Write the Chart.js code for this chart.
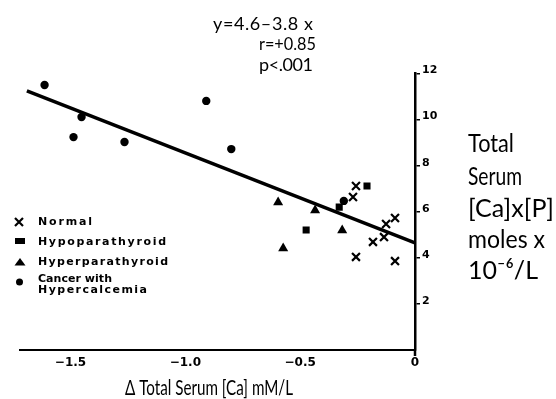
<!DOCTYPE html>
<html><head><meta charset="utf-8">
<script src="https://cdn.jsdelivr.net/npm/chart.js@4.4.0/dist/chart.umd.min.js"></script>
<style>html,body{margin:0;padding:0;background:#fff;}canvas{display:block;}</style>
</head><body>
<canvas id="c" width="556" height="399"></canvas>
<script>
// ---- data ----
const normalX = [-0.257, -0.270, -0.126, -0.087, -0.135, -0.183, -0.257, -0.087];
const normalY = [7.12, 6.64, 5.47, 5.73, 4.90, 4.69, 4.04, 3.86];
const hypoX = [-0.209, -0.474, -0.330];
const hypoY = [7.12, 5.21, 6.20];
const hyperX = [-0.596, -0.435, -0.317, -0.574];
const hyperY = [6.41, 6.06, 5.19, 4.41];
const cancerX = [-1.613, -1.452, -1.487, -1.265, -0.909, -0.800, -0.310];
const cancerY = [11.50, 10.11, 9.24, 9.03, 10.81, 8.72, 6.47];
const fitX = [-1.69, 0];
const fitY = [11.25, 4.65];
const xTicks = [-1.5, -1.0, -0.5, 0];
const yTicks = [2, 4, 6, 8, 10, 12];
const legendLabels = ['Normal', 'Hypoparathyroid', 'Hyperparathyroid', 'Cancer with', 'Hypercalcemia'];
const statLines = ['y=4.6\u20133.8 x', 'r=+0.85', 'p<.001'];
const yTitleLines = ['Total', 'Serum', '[Ca]x[P]', 'moles x', '10\u207B\u2076/L'];
const xTitle = '\u0394 Total Serum [Ca] mM/L';

const pts = (xs, ys) => xs.map((x, i) => ({x: x, y: ys[i]}));

function fitText(ctx, text, x, y, w, font) {
  ctx.save();
  ctx.font = font;
  ctx.letterSpacing = '0px';
  ctx.textBaseline = 'middle';
  ctx.textAlign = 'left';
  const m = ctx.measureText(text).width;
  const n = Math.max(1, text.length - 1);
  const sp = (w - m) / n;
  if (sp >= -0.8) {
    ctx.letterSpacing = sp + 'px';
    ctx.fillText(text, x, y);
  } else {
    ctx.translate(x, y);
    ctx.scale(w / m, 1);
    ctx.fillText(text, 0, 0);
  }
  ctx.restore();
}

const annot = {
  id: 'annot',
  afterDraw(chart) {
    const ctx = chart.ctx;
    const xs = chart.scales.x, ys = chart.scales.y;
    ctx.save();
    ctx.fillStyle = '#000';
    ctx.strokeStyle = '#000';
    // y axis stub below x axis
    ctx.lineWidth = 2.5;
    ctx.beginPath();
    ctx.moveTo(xs.getPixelForValue(0), ys.getPixelForValue(0));
    ctx.lineTo(xs.getPixelForValue(0), ys.getPixelForValue(0) + 6);
    ctx.stroke();
    // stats
    const sf = '18px Lato';
    fitText(ctx, statLines[0], 213, 24, 100, sf);
    fitText(ctx, statLines[1], 259, 44, 57, sf);
    fitText(ctx, statLines[2], 259, 65, 54, sf);
    // right title
    const tf = '25px Lato';
    const tY = [144, 177, 209, 240, 271];
    const tW = [46, 54, 86, 77, 70];
    yTitleLines.forEach((t, i) => fitText(ctx, t, 468, tY[i], tW[i], tf));
    // x title
    fitText(ctx, xTitle, 125, 388, 168, '21px Lato');
    // legend
    const lf = 'bold 11px "DejaVu Sans"';
    const lY = [222, 242, 262, 279, 290];
    const lW = [54, 128, 130, 74, 109];
    legendLabels.forEach((t, i) => fitText(ctx, t, 38, lY[i], lW[i], lf));
    // legend symbols
    ctx.lineWidth = 2.2;
    ctx.beginPath();
    ctx.moveTo(15, 218); ctx.lineTo(23, 226);
    ctx.moveTo(23, 218); ctx.lineTo(15, 226);
    ctx.stroke();
    ctx.fillRect(15, 238, 10, 6);
    ctx.beginPath();
    ctx.moveTo(20, 258); ctx.lineTo(25.5, 265.5); ctx.lineTo(14.5, 265.5); ctx.closePath();
    ctx.fill();
    ctx.beginPath();
    ctx.arc(19.5, 282, 3.5, 0, Math.PI * 2);
    ctx.fill();
    ctx.restore();
  }
};

new Chart(document.getElementById('c'), {
  type: 'scatter',
  data: {
    datasets: [
      {label: 'Fit', type: 'line', data: pts(fitX, fitY), borderColor: '#000', borderWidth: 3.5, pointRadius: 0, fill: false, order: 5},
      {label: 'Normal', data: pts(normalX, normalY), pointStyle: 'crossRot', pointRadius: 5.6, borderColor: '#000', borderWidth: 2.2, backgroundColor: '#000'},
      {label: 'Hypoparathyroid', data: pts(hypoX, hypoY), pointStyle: 'rect', pointRadius: 5, borderWidth: 0, backgroundColor: '#000', borderColor: '#000'},
      {label: 'Hyperparathyroid', data: pts(hyperX, hyperY), pointStyle: 'triangle', pointRadius: 5.8, borderWidth: 0, backgroundColor: '#000', borderColor: '#000'},
      {label: 'Cancer with Hypercalcemia', data: pts(cancerX, cancerY), pointStyle: 'circle', pointRadius: 4.2, borderWidth: 0, backgroundColor: '#000', borderColor: '#000'}
    ]
  },
  options: {
    responsive: false,
    animation: false,
    events: [],
    layout: {padding: {top: 73.5, left: 20, right: 0, bottom: 0}},
    plugins: {legend: {display: false}, tooltip: {enabled: false}, title: {display: false}},
    scales: {
      x: {
        type: 'linear', position: 'bottom', min: -1.72, max: 0,
        afterBuildTicks: s => { s.ticks = xTicks.map(v => ({value: v})); },
        afterFit: s => { s.height = 49; },
        grid: {display: false, drawTicks: false},
        border: {display: true, color: '#000', width: 2},
        ticks: {
          color: '#000', font: {family: 'DejaVu Sans', size: 12, weight: 'bold'}, padding: 6,
          maxRotation: 0, autoSkip: false,
          callback: v => v === 0 ? '0' : '\u2212' + Math.abs(v).toFixed(1)
        }
      },
      y: {
        type: 'linear', position: 'right', min: 0, max: 12,
        afterBuildTicks: s => { s.ticks = yTicks.map(v => ({value: v})); },
        afterFit: s => { s.width = 141; },
        grid: {display: true, drawOnChartArea: false, drawTicks: true, tickLength: 5, color: '#000', lineWidth: 1.5},
        border: {display: true, color: '#000', width: 2.5},
        ticks: {color: '#000', font: {family: 'DejaVu Sans', size: 11, weight: 'bold'}, padding: 2, labelOffset: -3, autoSkip: false}
      }
    }
  },
  plugins: [annot]
});
</script>
</body></html>
